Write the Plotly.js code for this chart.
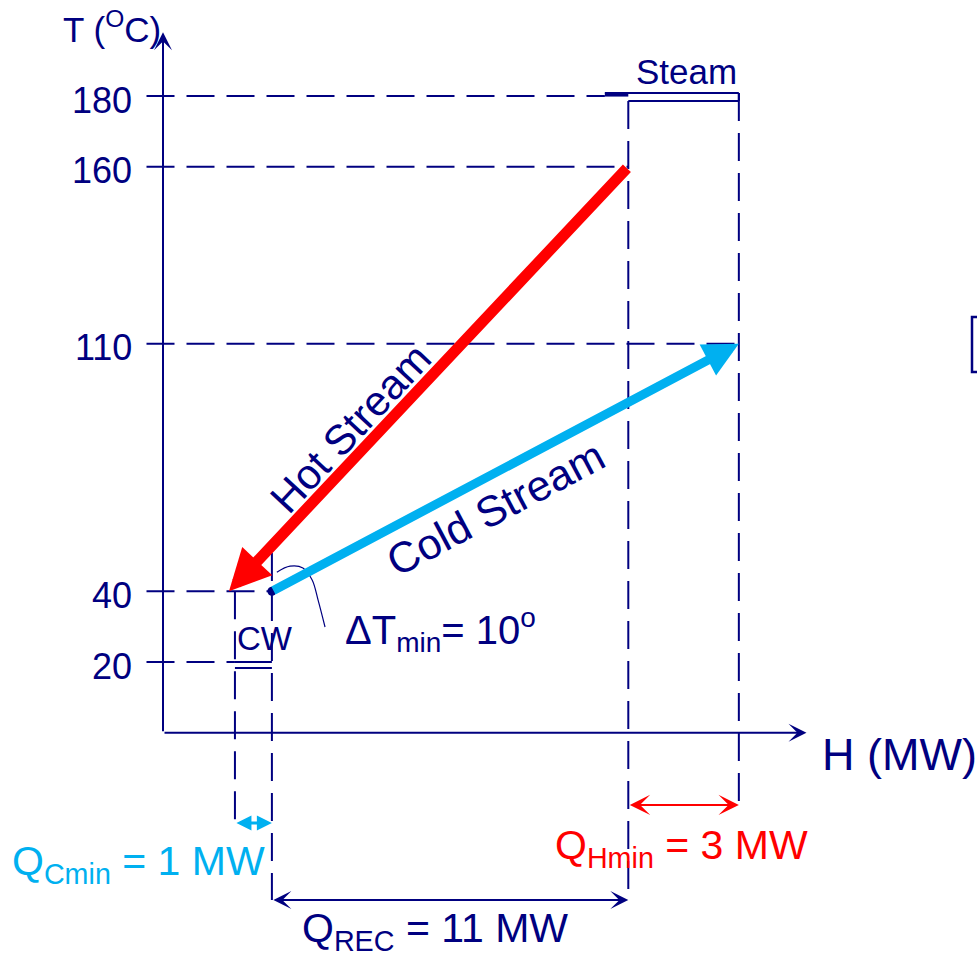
<!DOCTYPE html>
<html>
<head>
<meta charset="utf-8">
<script src="https://cdn.plot.ly/plotly-3.0.1.min.js"></script>
<style>html,body{margin:0;padding:0;background:#fff;}#chart{width:977px;height:955px;}</style>
</head>
<body>
<div id="chart"></div>
<script>
// ---- data ----
const tempTicks   = [180, 160, 110, 40, 20];
const tickLabels  = ['180', '160', '110', '40', '20'];
const hotH  = [14.1, 2.0];   const hotT  = [160, 40];   // hot stream (MW position, °C)
const coldH = [3.3, 17.45];  const coldT = [40, 110];   // cold stream
const steamH = [14.1, 17.45]; const steamT = 180;       // steam utility span
const cwH    = [2.18, 3.3];   const cwT    = 20;        // cooling water span
const guideEndH = [13.39, 14.1, 17.45, 3.3, 2.18];      // where each dashed temperature guide ends
const leaderH = [3.45, 3.85, 4.24, 4.52, 4.70, 4.91];   // ΔTmin leader curve
const leaderT = [45.4, 47.1, 46.6, 43.2, 37.5, 29.9];
const qLabels = ['Q<sub>Cmin</sub> = 1 MW', 'Q<sub>REC</sub> = 11 MW', 'Q<sub>Hmin</sub> = 3 MW'];
const streamLabels = ['Hot Stream', 'Cold Stream'];

// ---- layout helpers ----
const W = 977, H = 955;
const NAVY = '#000080', RED = '#ff0000', CYAN = '#00b0f0';
const FONT = 'Liberation Sans, Arial, sans-serif';
const pxPerMW = 33, originPx = 163, pxPerDeg = 3.5375, px180 = 96;
const xRange = [-originPx / pxPerMW, (W - originPx) / pxPerMW];
const yRange = [180 - (H - px180) / pxPerDeg, 180 + px180 / pxPerDeg];
const fx = p => p / W, fy = p => 1 - p / H;
const DASH = '28px,12px';
const guideStart = -0.5;

const traces = [];
function seg(x, y, opt) {
  traces.push(Object.assign({type: 'scatter', mode: 'lines', x: x, y: y, hoverinfo: 'skip', showlegend: false,
    line: Object.assign({color: NAVY, width: 2}, opt || {})}));
}
// horizontal dashed temperature guides
tempTicks.forEach((t, i) => seg([guideStart, guideEndH[i]], [t, t], {dash: DASH}));
// steam bar
seg([guideEndH[0], steamH[0]], [180.4, 180.4], {width: 4});
seg([guideEndH[0], steamH[1]], [180.85, 180.85]);
seg([steamH[0], steamH[1]], [178.6, 178.6]);
seg([steamH[1], steamH[1]], [180.85, 178.6]);
// cooling water bar
seg([cwH[0], cwH[1]], [cwT, cwT]);
seg([cwH[0], cwH[1]], [cwT - 1.7, cwT - 1.7]);
// vertical dashed guides
seg([steamH[0], steamH[0]], [178.6, -45.3], {dash: DASH});
seg([steamH[1], steamH[1]], [180.85, -19.6], {dash: DASH});
seg([cwH[0], cwH[0]], [40, -27.5], {dash: DASH});
seg([cwH[1], cwH[1]], [50.8, -47.3], {dash: DASH});
// leader curve
traces.push({type: 'scatter', mode: 'lines', x: leaderH, y: leaderT, hoverinfo: 'skip', showlegend: false,
  line: {color: NAVY, width: 1.2, shape: 'spline'}});
// pinch dot
traces.push({type: 'scatter', mode: 'markers', x: [coldH[0]], y: [coldT[0]], hoverinfo: 'skip', showlegend: false,
  marker: {color: NAVY, size: 9}});

const ann = [];
function arrow(x, y, ax, ay, color, width, head, size, both) {
  const a = {x: x, y: y, ax: ax, ay: ay, xref: 'x', yref: 'y', axref: 'x', ayref: 'y', text: '',
    showarrow: true, arrowcolor: color, arrowwidth: width, arrowhead: head, arrowsize: size, standoff: 0, startstandoff: 0};
  if (both) { a.arrowside = 'end+start'; a.startarrowhead = head; a.startarrowsize = size; }
  ann.push(a);
}
// axes
arrow(0, 198, 0, 0, NAVY, 2, 3, 1.5);
arrow(19.5, 0, 0, 0, NAVY, 2, 3, 1.5);
// streams
arrow(hotH[1], hotT[1], hotH[0], hotT[0], RED, 11, 2, 0.75);
arrow(coldH[1], coldT[1], coldH[0], coldT[0], CYAN, 9, 2, 0.78);
// dimension arrows
arrow(cwH[1], -25.5, cwH[0], -25.5, CYAN, 3, 2, 1.0, true);
arrow(steamH[0], -47.3, cwH[1], -47.3, NAVY, 2, 3, 1.5, true);
arrow(steamH[1], -20.4, steamH[0], -20.4, RED, 2, 3, 1.7, true);

function txt(text, x, y, opt) {
  ann.push(Object.assign({text: text, x: fx(x), y: fy(y), xref: 'paper', yref: 'paper', showarrow: false,
    xanchor: 'left', yanchor: 'middle', font: {family: FONT, size: 34, color: NAVY}}, opt || {}));
}
// tick labels
tempTicks.forEach((t, i) => ann.push({text: tickLabels[i], x: fx(134), y: t, xref: 'paper', yref: 'y', yshift: -4,
  showarrow: false, xanchor: 'right', yanchor: 'middle', font: {family: FONT, size: 36, color: NAVY}}));
txt('T (<sup>O</sup>C)', 61, 27, {font: {family: FONT, size: 35, color: NAVY}});
txt('H (MW)', 820, 754, {font: {family: FONT, size: 45, color: NAVY}});
txt('Steam', 634, 71, {font: {family: FONT, size: 35, color: NAVY}});
txt('CW', 235, 638, {font: {family: FONT, size: 33, color: NAVY}});
txt('ΔT<sub>min</sub>= 10<sup>o</sup>', 343, 630, {font: {family: FONT, size: 40, color: NAVY}});
txt(streamLabels[0], 350, 428, {xanchor: 'center', textangle: -47, font: {family: FONT, size: 42, color: NAVY}});
txt(streamLabels[1], 496, 508, {xanchor: 'center', textangle: -28, font: {family: FONT, size: 43, color: NAVY}});
txt(qLabels[0], 10, 864, {font: {family: FONT, size: 41, color: CYAN}});
txt(qLabels[1], 300, 931, {font: {family: FONT, size: 41, color: NAVY}});
txt(qLabels[2], 553, 848, {font: {family: FONT, size: 41, color: RED}});

const shapes = [{type: 'rect', xref: 'paper', yref: 'paper', x0: fx(972), x1: fx(990), y0: fy(372), y1: fy(317),
  line: {color: NAVY, width: 2.5}}];

const layout = {
  width: W, height: H, margin: {l: 0, r: 0, t: 0, b: 0},
  paper_bgcolor: '#fff', plot_bgcolor: '#fff', showlegend: false,
  xaxis: {range: xRange, visible: false, fixedrange: true},
  yaxis: {range: yRange, visible: false, fixedrange: true},
  annotations: ann, shapes: shapes
};
Plotly.newPlot('chart', traces, layout, {staticPlot: true, displayModeBar: false});
</script>
</body>
</html>
